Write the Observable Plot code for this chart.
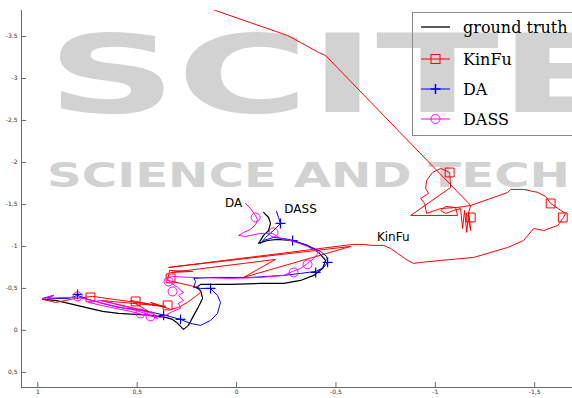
<!DOCTYPE html>
<html>
<head>
<meta charset="utf-8">
<script src="https://cdn.jsdelivr.net/npm/d3@7"></script>
<script src="https://cdn.jsdelivr.net/npm/@observablehq/plot@0.6"></script>
<style>
  html, body { margin: 0; padding: 0; background: #fff; }
  #chart svg { display: block; }
</style>
</head>
<body>
<div id="chart"></div>
<script>
// Axis ticks and visible range (both axes run reversed)
const xTicks = [1, 0.5, 0, -0.5, -1, -1.5];
const yTicks = [-3.5, -3, -2.5, -2, -1.5, -1, -0.5, 0, 0.5];
const xDomain = [1.082, -1.69];
const yDomain = [0.68, -3.81];

// Ground truth trajectory
const gtX = [0.976, 0.911, 0.845, 0.760, 0.674, 0.594, 0.508, 0.423, 0.357, 0.322, 0.302, 0.282, 0.267, 0.242, 0.221, 0.196, 0.171, 0.181, 0.201, 0.181, 0.030, -0.121, -0.237, -0.322, -0.388, -0.433, -0.448, -0.413, -0.357, -0.272, -0.206, -0.156, -0.111, -0.136, -0.161, -0.171, -0.161, -0.136];
const gtY = [-0.369, -0.357, -0.321, -0.274, -0.226, -0.202, -0.190, -0.179, -0.155, -0.131, -0.095, -0.048, -0.012, -0.060, -0.155, -0.262, -0.381, -0.476, -0.512, -0.548, -0.548, -0.560, -0.560, -0.595, -0.655, -0.738, -0.833, -0.929, -1.012, -1.071, -1.083, -1.071, -1.036, -1.131, -1.190, -1.274, -1.345, -1.405];

// KinFu trajectory
const kinfuX = [0.971, 0.911, 0.810, 0.725, 0.357, 0.684, 0.443, 0.533, 0.357, 0.433, 0.332, 0.292, 0.247, 0.206, 0.181, 0.191, 0.347, 0.337, 0.221, 0.332, -0.196, -0.035, -0.574, 0.342, -0.584, -0.639, -0.684, -0.740, -0.775, -0.810, -0.861, -0.891, -0.926, -1.027, -1.193, -1.364, -1.444, -1.495, -1.545, -1.616, -1.641, -1.656, -1.631, -1.580, -1.555, -1.515, -1.444, -1.379, -1.364, -1.178, -1.163, -1.178, -1.168, -1.158, -1.147, -1.137, -1.127, -1.092, -1.052, -1.027, -1.052, -1.102, -1.112, -0.876, -1.077, -1.072, -1.027, -0.986, -0.956, -0.951, -0.966, -0.926, -0.946, -0.956, -1.027, -1.112, -1.178, -0.448, -0.413, -0.322, -0.257, 0.106, 0.181];
const kinfuY = [-0.369, -0.333, -0.381, -0.405, -0.286, -0.357, -0.226, -0.357, -0.274, -0.333, -0.250, -0.274, -0.333, -0.405, -0.452, -0.512, -0.595, -0.714, -0.702, -0.690, -0.845, -0.631, -1.000, -0.750, -1.024, -1.024, -1.012, -1.012, -0.976, -0.917, -0.833, -0.798, -0.810, -0.833, -0.869, -0.988, -1.071, -1.214, -1.190, -1.250, -1.333, -1.393, -1.429, -1.512, -1.595, -1.643, -1.679, -1.679, -1.643, -1.488, -1.369, -1.190, -1.405, -1.167, -1.429, -1.214, -1.452, -1.429, -1.393, -1.429, -1.476, -1.464, -1.369, -1.369, -1.702, -1.881, -1.929, -1.881, -1.786, -1.690, -1.631, -1.571, -1.512, -1.393, -1.452, -1.464, -1.488, -3.274, -3.310, -3.429, -3.512, -3.810, -3.881];
const kinfuMarkX = [0.735, 0.508, 0.347, 0.332, -1.072, -1.178, -1.580, -1.641];
const kinfuMarkY = [-0.393, -0.345, -0.298, -0.619, -1.881, -1.345, -1.512, -1.345];

// DA trajectory
const daX = [0.976, 0.921, 0.951, 0.845, 0.800, 0.760, 0.674, 0.594, 0.508, 0.423, 0.357, 0.282, 0.232, 0.181, 0.131, 0.096, 0.081, 0.096, 0.131, 0.181, 0.216, 0.206, 0.216, 0.131, -0.070, -0.237, -0.322, -0.398, -0.438, -0.458, -0.453, -0.423, -0.357, -0.287, -0.237, -0.186, -0.136, -0.121, -0.146, -0.186, -0.221, -0.211, -0.201];
const daY = [-0.381, -0.417, -0.381, -0.381, -0.417, -0.381, -0.321, -0.274, -0.250, -0.214, -0.179, -0.131, -0.083, -0.060, -0.119, -0.202, -0.333, -0.417, -0.500, -0.500, -0.512, -0.583, -0.619, -0.631, -0.631, -0.655, -0.679, -0.702, -0.750, -0.810, -0.881, -0.940, -1.012, -1.071, -1.095, -1.107, -1.071, -1.036, -1.107, -1.190, -1.274, -1.345, -1.417];
const daMarkX = [0.800, 0.367, 0.282, 0.131, -0.398, -0.458, -0.282, -0.221];
const daMarkY = [-0.429, -0.179, -0.131, -0.500, -0.690, -0.810, -1.071, -1.274];

// DASS trajectory
const dassX = [0.976, 0.921, 0.946, 0.876, 0.795, 0.710, 0.609, 0.508, 0.443, 0.398, 0.423, 0.544, 0.684, 0.745, 0.634, 0.533, 0.458, 0.382, 0.357, 0.322, 0.282, 0.292, 0.267, 0.292, 0.267, 0.297, 0.327, 0.352, 0.322, 0.232, 0.030, -0.121, -0.237, -0.282, -0.322, -0.357, -0.388, -0.413, -0.357, -0.287, -0.221, -0.181, -0.121, -0.045, -0.010, -0.035, -0.070, -0.096, -0.106, -0.091, -0.070, -0.045];
const dassY = [-0.369, -0.417, -0.381, -0.393, -0.393, -0.345, -0.286, -0.238, -0.190, -0.143, -0.202, -0.274, -0.357, -0.333, -0.274, -0.226, -0.179, -0.155, -0.179, -0.226, -0.262, -0.321, -0.357, -0.417, -0.452, -0.512, -0.560, -0.619, -0.643, -0.631, -0.619, -0.631, -0.655, -0.702, -0.738, -0.798, -0.857, -0.929, -1.000, -1.060, -1.095, -1.155, -1.155, -1.119, -1.131, -1.167, -1.202, -1.262, -1.321, -1.381, -1.452, -1.512];
const dassMarkX = [0.800, 0.483, 0.433, 0.342, 0.322, -0.096, -0.186, -0.287, -0.357];
const dassMarkY = [-0.405, -0.202, -0.167, -0.583, -0.464, -1.345, -1.167, -0.690, -0.786];

// End-point annotations
const annoText = ["DA", "DASS", "KinFu"];
const annoX = [0.015, -0.322, -0.788];
const annoY = [-1.464, -1.393, -1.06];

// Legend
const legendNames = ["ground truth", "KinFu", "DA", "DASS"];
const legendColors = ["#000000", "#ff0000", "#0000ff", "#ff00ff"];
const legendSymbols = [null, "square", "plus", "circle"];

const rows = (xs, ys) => xs.map((x, i) => ({x, y: ys[i]}));
const fmt = d => String(d).replace(".", ",");

const W = 572, H = 398;

const chart = Plot.plot({
  width: W,
  height: H,
  marginLeft: 21,
  marginRight: 0,
  marginTop: 10,
  marginBottom: 11,
  style: {background: "transparent", fontFamily: "DejaVu Sans"},
  x: {domain: xDomain},
  y: {domain: yDomain},
  marks: [
    // axis lines
    Plot.ruleX([xDomain[0]], {stroke: "#6a6a6a", strokeWidth: 1}),
    Plot.ruleY([yDomain[0]], {stroke: "#6a6a6a", strokeWidth: 1}),
    // inward tick marks
    Plot.ruleX(xTicks, {x: d => d, y1: () => yDomain[0], y2: () => yDomain[0], insetBottom: 5, stroke: "#6a6a6a"}),
    Plot.ruleY(yTicks, {y: d => d, x1: () => xDomain[0], x2: () => xDomain[0], insetRight: -5, stroke: "#6a6a6a"}),
    Plot.axisX({ticks: xTicks, tickSize: 0, tickPadding: 2, tickFormat: fmt, fontSize: 6, fill: "#333", label: null}),
    Plot.axisY({ticks: yTicks, tickSize: 0, tickPadding: 4, tickFormat: fmt, fontSize: 6, fill: "#333", label: null}),
    // trajectories
    Plot.line(rows(gtX, gtY), {x: "x", y: "y", stroke: "#000", strokeWidth: 1.2, clip: true}),
    Plot.line(rows(kinfuX, kinfuY), {x: "x", y: "y", stroke: "#ff0000", strokeWidth: 1, clip: true}),
    Plot.dot(rows(kinfuMarkX, kinfuMarkY), {x: "x", y: "y", symbol: "square", r: 5, stroke: "#ff0000", fill: "none", strokeWidth: 1}),
    Plot.line(rows(daX, daY), {x: "x", y: "y", stroke: "#0000ff", strokeWidth: 1, clip: true}),
    Plot.dot(rows(daMarkX, daMarkY), {x: "x", y: "y", symbol: "plus", r: 3.3, stroke: "#0000ff", strokeWidth: 1.2}),
    Plot.line(rows(dassX, dassY), {x: "x", y: "y", stroke: "#ff00ff", strokeWidth: 1, clip: true}),
    Plot.dot(rows(dassMarkX, dassMarkY), {x: "x", y: "y", symbol: "circle", r: 4.5, stroke: "#ff00ff", fill: "none", strokeWidth: 1}),
    // labels at trajectory ends
    Plot.text(annoText.map((t, i) => ({t, x: annoX[i], y: annoY[i]})), {x: "x", y: "y", text: "t", textAnchor: "middle", lineAnchor: "bottom", fontSize: 12, fontFamily: "DejaVu Sans", fill: "#000"})
  ]
});

document.getElementById("chart").append(chart);

const svg = d3.select(chart);

// publisher watermark behind the data
const wm = svg.insert("g", ":first-child")
  .attr("fill", "#d2d2d2")
  .attr("font-family", "DejaVu Sans")
  .attr("font-weight", "bold")
  .attr("text-anchor", "start");
wm.append("text").attr("x", 47).attr("y", 112).attr("font-size", 108)
  .attr("textLength", 575).attr("lengthAdjust", "spacingAndGlyphs").text("SCITE");
wm.append("text").attr("x", 47).attr("y", 187).attr("font-size", 33)
  .attr("textLength", 523).attr("lengthAdjust", "spacingAndGlyphs").text("SCIENCE AND TECH");

// legend box in the top-right corner
const lg = svg.append("g").attr("text-anchor", "start");
lg.append("rect").attr("x", 412.5).attr("y", 12.5).attr("width", 180).attr("height", 123)
  .attr("fill", "none").attr("stroke", "#8a8a8a").attr("stroke-width", 1);
const rowY = [27, 59, 89, 119];
legendNames.forEach((name, i) => {
  const c = legendColors[i], y = rowY[i];
  lg.append("line").attr("x1", 421).attr("x2", 450).attr("y1", y).attr("y2", y)
    .attr("stroke", c).attr("stroke-width", i === 0 ? 1.3 : 1);
  const s = legendSymbols[i];
  if (s === "square") {
    lg.append("rect").attr("x", 431).attr("y", y - 4.5).attr("width", 9).attr("height", 9)
      .attr("fill", "none").attr("stroke", c);
  } else if (s === "plus") {
    lg.append("path").attr("d", `M${430.5},${y}H${440.5}M${435.5},${y - 5}V${y + 5}`)
      .attr("stroke", c).attr("stroke-width", 1.5).attr("fill", "none");
  } else if (s === "circle") {
    lg.append("circle").attr("cx", 435.5).attr("cy", y).attr("r", 4.5)
      .attr("fill", "none").attr("stroke", c);
  }
  lg.append("text").attr("x", 463).attr("y", y).attr("dy", "0.35em")
    .attr("font-family", "DejaVu Serif").attr("font-size", 16).attr("fill", "#000").text(name);
});
</script>
</body>
</html>
